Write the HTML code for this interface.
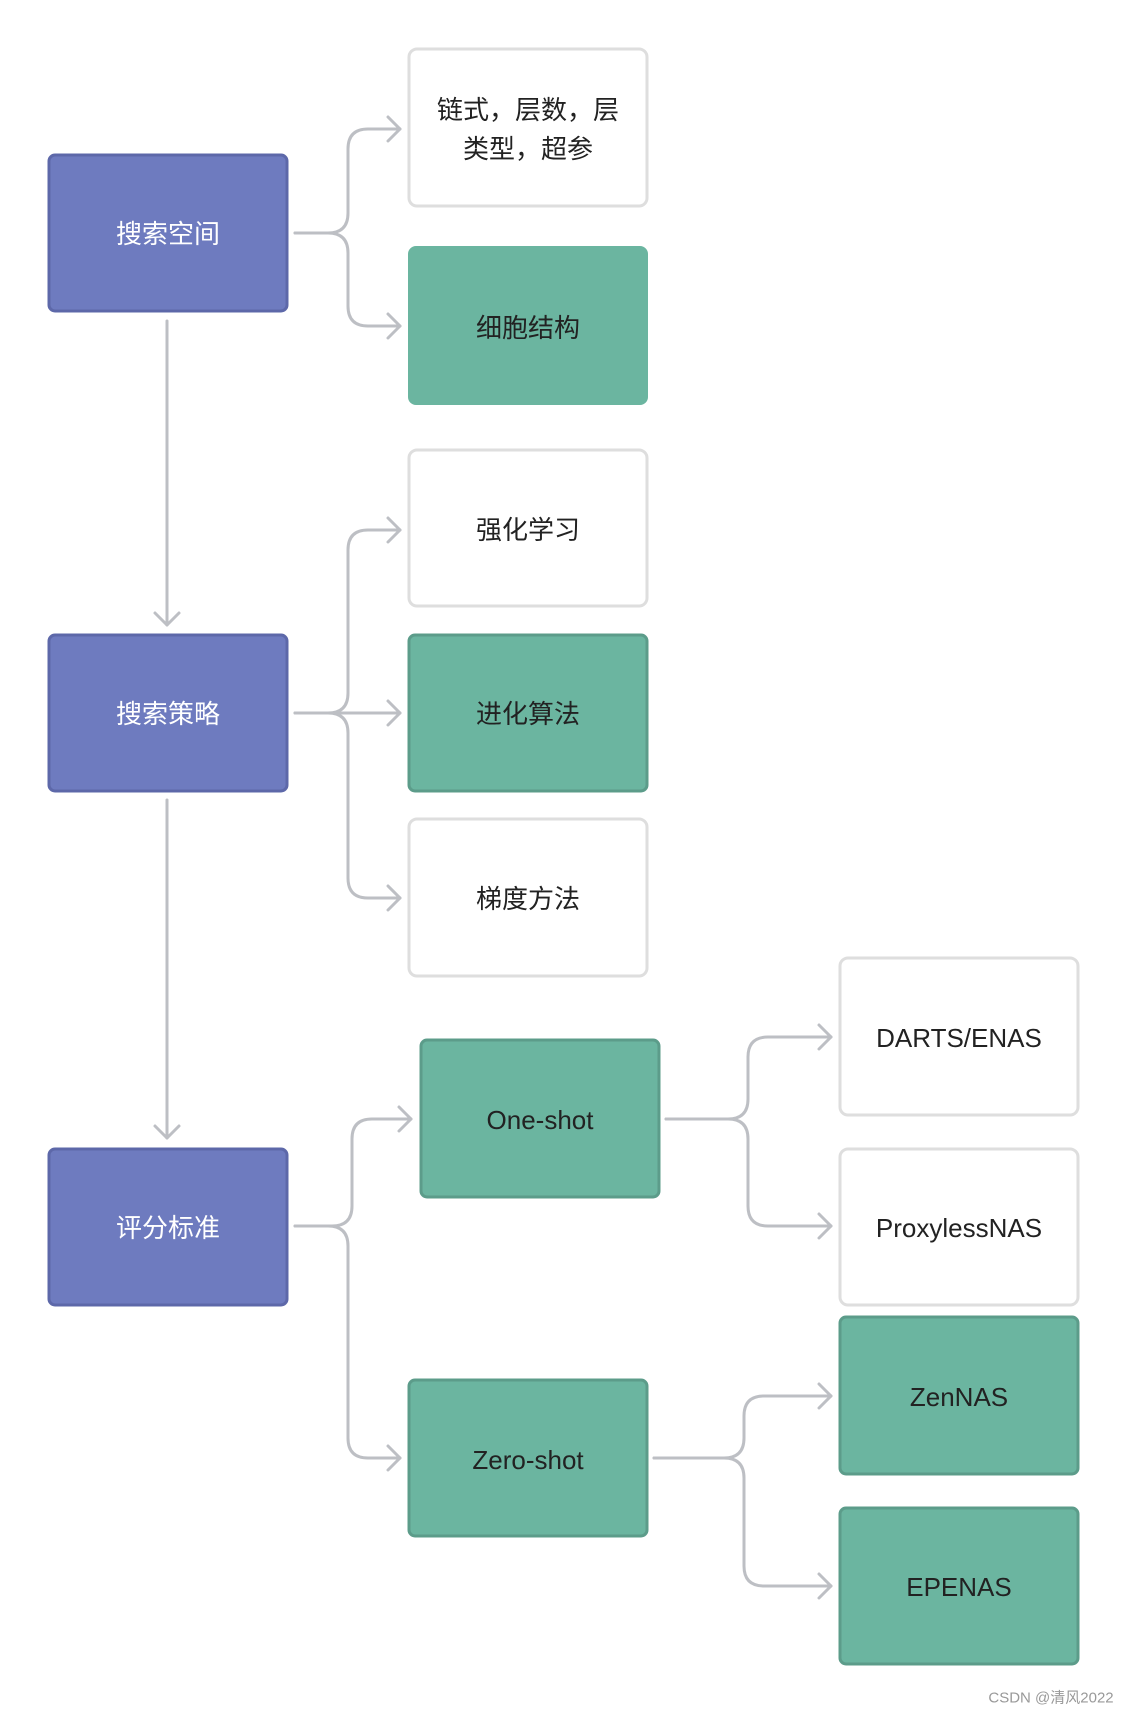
<!DOCTYPE html>
<html><head><meta charset="utf-8"><style>
html,body{margin:0;padding:0;background:#fff;}
svg{display:block;}
text{font-family:"Liberation Sans","Noto Sans CJK SC",sans-serif;font-size:26px;fill:#222;text-anchor:middle;dominant-baseline:central;}
.p{fill:#6e7bbf;stroke:#5d68a9;stroke-width:3;}
.g{fill:#6bb5a0;stroke:#5c9c8a;stroke-width:3;}
.w{fill:#fff;stroke:#dedede;stroke-width:3;}
.c{fill:none;stroke:#bdbfc4;stroke-width:3;stroke-linecap:round;stroke-linejoin:round;}
.wt{fill:#fff;}
</style></head><body>
<svg width="1126" height="1712" viewBox="0 0 1126 1712">
<!-- connectors -->
<g class="c">
<path d="M295 233 H328 Q348 233 348 213 V149 Q348 129 368 129 H400"/><path d="M388 117 L400 129 L388 141"/>
<path d="M295 233 H328 Q348 233 348 253 V306 Q348 326 368 326 H400"/><path d="M388 314 L400 326 L388 338"/>
<path d="M167 321 V625"/><path d="M155 613 L167 625 L179 613"/>
<path d="M167 800 V1138"/><path d="M155 1126 L167 1138 L179 1126"/>
<path d="M295 713 H400"/><path d="M388 701 L400 713 L388 725"/>
<path d="M295 713 H328 Q348 713 348 693 V550 Q348 530 368 530 H400"/><path d="M388 518 L400 530 L388 542"/>
<path d="M295 713 H328 Q348 713 348 733 V878 Q348 898 368 898 H400"/><path d="M388 886 L400 898 L388 910"/>
<path d="M295 1226 H332 Q352 1226 352 1206 V1139 Q352 1119 372 1119 H411"/><path d="M399 1107 L411 1119 L399 1131"/>
<path d="M295 1226 H328 Q348 1226 348 1246 V1438 Q348 1458 368 1458 H400"/><path d="M388 1446 L400 1458 L388 1470"/>
<path d="M666 1119 H728 Q748 1119 748 1099 V1057 Q748 1037 768 1037 H831"/><path d="M819 1025 L831 1037 L819 1049"/>
<path d="M666 1119 H728 Q748 1119 748 1139 V1206 Q748 1226 768 1226 H831"/><path d="M819 1214 L831 1226 L819 1238"/>
<path d="M654 1458 H724 Q744 1458 744 1438 V1416 Q744 1396 764 1396 H831"/><path d="M819 1384 L831 1396 L819 1408"/>
<path d="M654 1458 H724 Q744 1458 744 1478 V1566 Q744 1586 764 1586 H831"/><path d="M819 1574 L831 1586 L819 1598"/>
</g>
<!-- purple -->
<rect class="p" x="49" y="155" width="238" height="156" rx="6"/><text class="wt" x="168" y="234">搜索空间</text>
<rect class="p" x="49" y="635" width="238" height="156" rx="6"/><text class="wt" x="168" y="714">搜索策略</text>
<rect class="p" x="49" y="1149" width="238" height="156" rx="6"/><text class="wt" x="168" y="1228">评分标准</text>
<!-- middle -->
<rect class="w" x="409" y="49" width="238" height="157" rx="8"/><text x="528" y="110">链式，层数，层</text><text x="528" y="149">类型，超参</text>
<rect x="408" y="246" width="240" height="159" rx="8" fill="#6bb5a0"/><text x="528" y="328">细胞结构</text>
<rect class="w" x="409" y="450" width="238" height="156" rx="8"/><text x="528" y="530">强化学习</text>
<rect class="g" x="409" y="635" width="238" height="156" rx="6"/><text x="528" y="714">进化算法</text>
<rect class="w" x="409" y="819" width="238" height="157" rx="8"/><text x="528" y="899">梯度方法</text>
<rect class="g" x="421" y="1040" width="238" height="157" rx="6"/><text x="540" y="1120">One-shot</text>
<rect class="g" x="409" y="1380" width="238" height="156" rx="6"/><text x="528" y="1460">Zero-shot</text>
<!-- right -->
<rect class="w" x="840" y="958" width="238" height="157" rx="8"/><text x="959" y="1038">DARTS/ENAS</text>
<rect class="w" x="840" y="1149" width="238" height="156" rx="8"/><text x="959" y="1228">ProxylessNAS</text>
<rect class="g" x="840" y="1317" width="238" height="157" rx="6"/><text x="959" y="1397">ZenNAS</text>
<rect class="g" x="840" y="1508" width="238" height="156" rx="6"/><text x="959" y="1587">EPENAS</text>
<text x="1051" y="1698" style="font-size:15px;fill:#999;">CSDN @清风2022</text>
</svg>
</body></html>
